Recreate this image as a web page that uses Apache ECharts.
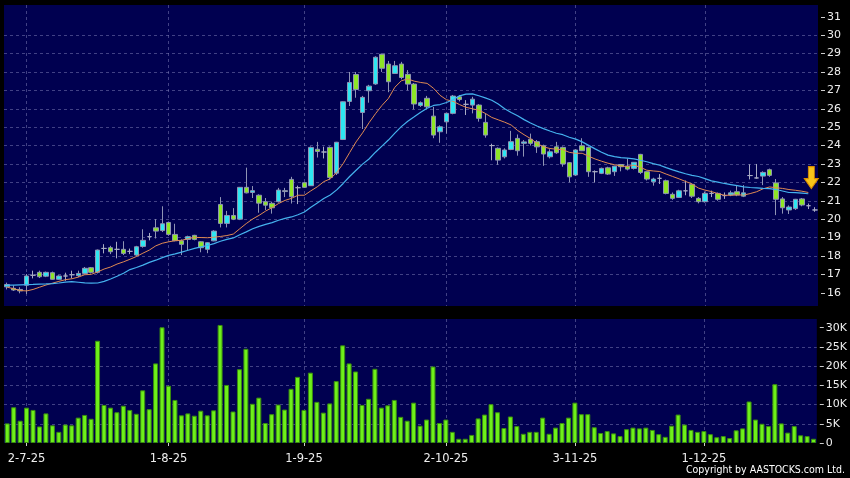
<!DOCTYPE html>
<html>
<head>
<meta charset="utf-8">
<script src="https://cdn.jsdelivr.net/npm/echarts@6/dist/echarts.min.js"></script>
<style>
  html, body { margin: 0; padding: 0; background: #000; }
  #kLineChart { width: 850px; height: 478px; }
</style>
</head>
<body>
<div id="kLineChart"></div>
<script>
// trading days (D-M-YY)
const dates = ['26-6-25','27-6-25','30-6-25',
  '2-7-25','3-7-25','4-7-25','7-7-25','8-7-25','9-7-25','10-7-25','11-7-25','14-7-25','15-7-25','16-7-25','17-7-25','18-7-25','21-7-25','22-7-25','23-7-25','24-7-25','25-7-25','28-7-25','29-7-25','30-7-25','31-7-25',
  '1-8-25','4-8-25','5-8-25','6-8-25','7-8-25','8-8-25','11-8-25','12-8-25','13-8-25','14-8-25','15-8-25','18-8-25','19-8-25','20-8-25','21-8-25','22-8-25','25-8-25','26-8-25','27-8-25','28-8-25','29-8-25',
  '1-9-25','2-9-25','3-9-25','4-9-25','5-9-25','8-9-25','9-9-25','10-9-25','11-9-25','12-9-25','15-9-25','16-9-25','17-9-25','18-9-25','19-9-25','22-9-25','23-9-25','24-9-25','25-9-25','26-9-25','29-9-25','30-9-25',
  '2-10-25','3-10-25','6-10-25','8-10-25','9-10-25','10-10-25','13-10-25','14-10-25','15-10-25','16-10-25','17-10-25','20-10-25','21-10-25','22-10-25','23-10-25','24-10-25','27-10-25','28-10-25','30-10-25','31-10-25',
  '3-11-25','4-11-25','5-11-25','6-11-25','7-11-25','10-11-25','11-11-25','12-11-25','13-11-25','14-11-25','17-11-25','18-11-25','19-11-25','20-11-25','21-11-25','24-11-25','25-11-25','26-11-25','27-11-25','28-11-25',
  '1-12-25','2-12-25','3-12-25','4-12-25','5-12-25','8-12-25','9-12-25','10-12-25','11-12-25','12-12-25','15-12-25','16-12-25','17-12-25','18-12-25','19-12-25','22-12-25','23-12-25','24-12-25'];

const opens = [16.32,16.24,16.18,16.41,16.95,17.11,16.90,17.09,16.73,16.91,
  16.98,16.93,17.05,17.36,17.11,18.41,18.45,18.36,18.36,18.25,
  18.05,18.52,19.05,19.53,19.38,19.82,19.17,18.82,18.90,19.12,
  18.77,18.36,18.82,20.80,19.77,20.20,20.00,21.73,21.45,21.30,
  20.95,20.86,20.95,21.55,22.16,21.71,21.98,21.82,23.80,23.65,
  23.90,22.50,24.33,26.40,27.86,25.80,26.98,27.35,28.96,28.43,
  27.92,28.43,27.87,27.34,26.18,26.57,25.60,24.75,25.29,25.75,
  26.65,26.24,26.20,26.20,25.26,24.00,23.85,23.39,23.79,24.39,
  24.12,24.34,24.21,23.99,23.39,23.93,23.90,23.07,22.40,23.99,
  23.90,22.58,22.49,22.79,22.58,22.97,22.88,22.76,23.52,22.58,
  22.03,22.22,22.09,21.35,21.18,21.54,21.89,21.13,20.95,21.40,
  21.40,21.28,21.31,21.49,21.25,22.37,22.24,22.34,22.69,21.97,
  21.10,20.50,20.57,21.10,20.73,20.50];

const closes = [16.45,16.15,16.10,16.91,16.95,16.87,17.11,16.73,16.91,16.91,
  16.98,17.05,17.33,17.11,18.32,18.41,18.23,18.36,18.14,18.25,
  18.50,18.85,19.05,19.35,19.75,19.17,18.83,18.63,19.05,18.90,
  18.45,18.72,19.35,19.77,20.20,20.00,21.73,21.43,21.55,20.87,
  20.76,20.62,21.58,21.50,21.22,21.71,21.73,23.90,23.68,23.65,
  22.27,24.18,26.38,27.43,27.05,26.62,27.23,28.80,28.20,27.47,
  28.34,27.70,27.34,26.26,26.33,26.11,24.57,25.02,25.75,26.69,
  26.50,26.24,26.52,25.48,24.57,24.00,23.21,23.76,24.21,23.72,
  24.20,24.12,23.93,23.54,23.66,23.61,23.00,22.30,23.76,23.72,
  22.58,22.58,22.76,22.45,22.88,22.85,22.72,23.09,22.54,22.18,
  22.18,22.22,21.40,21.13,21.54,21.54,21.25,20.95,21.40,21.40,
  21.08,21.28,21.43,21.31,21.43,22.37,22.24,22.54,22.38,21.08,
  20.62,20.66,21.08,20.77,20.73,20.50];

const lows = [16.18,16.10,15.97,15.93,16.78,16.80,16.85,16.70,16.70,16.65,
  16.78,16.85,17.00,17.05,17.05,18.14,18.10,17.87,18.05,18.10,
  18.00,18.45,18.85,18.95,19.30,19.10,18.80,18.05,18.30,18.85,
  18.20,18.15,18.80,19.55,19.55,19.95,19.95,21.40,21.15,20.35,
  20.50,20.30,20.90,21.20,20.85,20.82,21.70,21.80,23.35,23.30,
  22.15,22.40,24.30,26.15,26.60,24.90,26.33,27.30,28.00,26.90,
  27.90,27.60,27.00,25.97,26.10,26.00,24.40,24.15,24.65,25.70,
  26.40,25.66,25.75,25.30,24.43,23.20,22.95,23.30,23.75,23.45,
  23.40,24.00,23.60,22.90,23.30,23.55,22.85,22.00,22.35,23.70,
  22.30,22.00,22.45,22.40,22.35,22.60,22.65,22.70,22.45,22.10,
  21.82,21.91,21.35,21.05,21.15,21.30,21.15,20.86,20.90,21.20,
  21.00,21.10,21.25,21.25,21.20,22.16,22.20,21.85,22.30,20.22,
  20.30,20.28,20.50,20.70,20.55,20.40];

const highs = [16.55,16.40,16.30,17.02,17.20,17.20,17.15,17.15,16.95,17.09,
  17.20,17.20,17.40,17.40,18.35,18.64,18.55,18.77,18.80,18.40,
  18.55,19.45,19.25,20.00,20.70,19.85,19.75,18.90,19.10,19.15,
  18.80,18.75,19.40,21.20,20.45,20.60,21.75,22.80,21.80,21.35,
  21.15,20.95,21.70,21.70,22.30,21.82,22.00,23.95,24.20,23.94,
  23.95,24.20,26.40,28.00,28.00,26.70,27.30,28.85,29.00,28.60,
  28.60,28.55,28.10,27.40,26.40,26.70,26.10,25.10,25.80,26.75,
  26.75,26.47,26.65,26.25,25.75,24.10,23.90,23.85,24.80,24.60,
  24.30,24.65,24.30,24.05,23.80,24.20,23.95,23.10,23.80,24.40,
  23.95,22.65,22.80,22.85,22.90,23.00,23.30,23.10,23.55,22.60,
  22.25,22.45,22.15,21.45,21.60,22.10,21.95,21.20,21.50,21.55,
  21.45,21.45,21.55,21.85,21.85,22.98,23.00,22.60,22.75,22.18,
  21.20,20.75,21.10,21.15,20.85,20.65];

const volumes = [5100,9300,5800,9200,8600,4300,7700,4600,2900,4800,
  4600,6600,7300,6300,26600,9900,9200,8000,9700,8600,
  7600,13700,8800,20700,30100,14900,11200,7200,7700,7100,
  8400,7200,8500,30700,15100,8200,19200,24500,10200,11800,
  5200,7500,10000,8700,14100,17200,8600,18300,10700,7900,
  10300,16100,25400,20700,18600,9900,11500,19300,9200,9800,
  11200,6800,5800,10500,4500,6100,19900,5200,6100,2900,
  1100,1100,2100,6400,7400,10100,8000,3900,6900,4400,
  2400,2900,2900,6600,2400,4000,5200,6600,10500,7500,
  7500,4100,2600,3100,2500,1800,3600,4000,3800,4000,
  3400,2300,1600,4500,7400,4800,3400,2900,3100,2300,
  1500,1800,1300,3300,3800,10800,6100,5000,4400,15300,
  5100,2700,4400,2000,1800,1100];

// moving averages as drawn (10-day orange, 20-day blue)
const ma10 = [16.30,16.22,16.12,16.10,16.18,16.30,16.42,16.52,16.62,16.71,
  16.76,16.85,16.98,17.00,17.13,17.29,17.40,17.56,17.68,17.82,
  17.97,18.15,18.32,18.55,18.69,18.77,18.83,18.85,18.94,19.01,
  19.00,18.99,19.02,19.06,19.11,19.19,19.48,19.76,20.01,20.21,
  20.44,20.63,20.85,21.02,21.13,21.30,21.30,21.54,21.76,22.04,
  22.19,22.54,23.02,23.62,24.20,24.69,25.24,25.73,26.18,26.56,
  27.17,27.52,27.62,27.50,27.43,27.38,27.11,26.73,26.49,26.41,
  26.23,26.08,26.00,25.92,25.75,25.53,25.40,25.27,25.12,24.82,
  24.59,24.38,24.12,23.93,23.84,23.80,23.78,23.63,23.58,23.58,
  23.42,23.27,23.15,23.04,22.96,22.89,22.86,22.94,22.82,22.66,
  22.62,22.59,22.45,22.32,22.19,22.05,21.91,21.69,21.58,21.50,
  21.39,21.30,21.30,21.32,21.31,21.39,21.49,21.65,21.75,21.71,
  21.67,21.61,21.57,21.52,21.45];

const ma20 = [16.42,16.42,16.43,16.44,16.45,16.47,16.48,16.50,16.53,16.58,
  16.60,16.57,16.54,16.52,16.53,16.62,16.75,16.90,17.06,17.26,
  17.37,17.50,17.65,17.77,17.91,18.03,18.11,18.21,18.31,18.41,
  18.49,18.57,18.67,18.80,18.90,18.98,19.15,19.31,19.48,19.61,
  19.72,19.81,19.94,20.04,20.12,20.24,20.39,20.65,20.88,21.12,
  21.31,21.59,21.94,22.32,22.66,22.99,23.27,23.64,23.97,24.30,
  24.68,25.03,25.32,25.56,25.81,26.03,26.18,26.23,26.34,26.49,
  26.70,26.80,26.81,26.71,26.59,26.46,26.26,26.00,25.80,25.62,
  25.41,25.23,25.06,24.92,24.79,24.67,24.59,24.45,24.35,24.20,
  24.01,23.82,23.64,23.48,23.40,23.34,23.32,23.28,23.20,23.12,
  23.02,22.93,22.80,22.68,22.57,22.47,22.38,22.32,22.20,22.08,
  22.01,21.94,21.88,21.82,21.75,21.72,21.70,21.67,21.66,21.61,
  21.53,21.45,21.44,21.42,21.38];

const priceTicks = [16,17,18,19,20,21,22,23,24,25,26,27,28,29,30,31];
const volumeTicks = [0,5000,10000,15000,20000,25000,30000];
const arrowMark = ['23-12-25', 22.26];

let kLineChart = echarts.init(document.getElementById('kLineChart'));

// first trading day of each month gets a label and a grid line
function isMonthStart(index) {
  if (index === 0) return false;
  return dates[index].split('-')[1] !== dates[index - 1].split('-')[1];
}

let candles = [];
for (let i = 0; i < dates.length; i++) {
  candles.push([opens[i], closes[i], lows[i], highs[i]]);
}

const gridLine = { color: 'rgba(130,130,185,0.5)', type: [3, 3], width: 1 };
const labelFont = 'DejaVu Sans';

let option = {
  animation: false,
  backgroundColor: '#000000',
  grid: [
    { left: 4, right: 32, top: 5, height: 301, show: true, backgroundColor: '#000050', borderWidth: 0 },
    { left: 4, right: 32, top: 319, height: 124, show: true, backgroundColor: '#000050', borderWidth: 0 }
  ],
  xAxis: [
    {
      type: 'category', gridIndex: 0, data: dates,
      axisLine: { show: false }, axisTick: { show: false }, axisLabel: { show: false },
      splitLine: { show: true, interval: isMonthStart, alignWithLabel: true, lineStyle: gridLine }
    },
    {
      type: 'category', gridIndex: 1, data: dates,
      axisLine: { show: false },
      axisTick: { show: true, interval: isMonthStart, alignWithLabel: true, length: 3, lineStyle: { color: '#cccccc' } },
      axisLabel: { interval: isMonthStart, color: '#eeeeee', fontSize: 11.5, fontFamily: labelFont, margin: 10 },
      splitLine: { show: true, interval: isMonthStart, alignWithLabel: true, lineStyle: gridLine }
    }
  ],
  yAxis: [
    {
      type: 'value', gridIndex: 0, position: 'right', offset: 3,
      min: 15.28, max: 31.64, minInterval: 1, maxInterval: 1,
      axisLine: { show: false },
      axisTick: { show: true, length: 4, customValues: priceTicks, lineStyle: { color: '#cccccc' } },
      axisLabel: { customValues: priceTicks, color: '#eeeeee', fontSize: 11, fontFamily: labelFont, margin: 6 },
      splitLine: { show: true, showMinLine: false, showMaxLine: false, lineStyle: gridLine }
    },
    {
      type: 'value', gridIndex: 1, position: 'right', offset: 3,
      min: 0, max: 32250, minInterval: 5000, maxInterval: 5000,
      axisLine: { show: false },
      axisTick: { show: true, length: 4, customValues: volumeTicks, lineStyle: { color: '#cccccc' } },
      axisLabel: {
        customValues: volumeTicks, color: '#eeeeee', fontSize: 11, fontFamily: labelFont, margin: 6,
        formatter: function (v) { return v === 0 ? '0' : (v / 1000) + 'K'; }
      },
      splitLine: { show: true, showMinLine: false, showMaxLine: false, lineStyle: gridLine }
    }
  ],
  series: [
    {
      name: 'K', type: 'candlestick', xAxisIndex: 0, yAxisIndex: 0,
      data: candles, barWidth: 5,
      itemStyle: {
        color: '#2ee6f2', color0: '#8ee626',
        borderColor: '#8f94b4', borderColor0: '#8f94b4', borderColorDoji: '#a8abc4',
        borderWidth: 1
      },
      markPoint: {
        silent: true,
        label: { show: false },
        data: [{
          coord: arrowMark,
          symbol: 'path://M4,0 L10,0 L10,12 L14,12 L7,22 L0,12 L4,12 Z',
          symbolSize: [14, 22], symbolOffset: [3, 0],
          itemStyle: { color: '#f7c51a', borderColor: '#d98c00', borderWidth: 1 }
        }]
      }
    },
    {
      name: 'MA10', type: 'line', xAxisIndex: 0, yAxisIndex: 0, data: ma10,
      showSymbol: false, lineStyle: { color: '#e08a52', width: 1 }
    },
    {
      name: 'MA20', type: 'line', xAxisIndex: 0, yAxisIndex: 0, data: ma20,
      showSymbol: false, lineStyle: { color: '#45b2ee', width: 1.2 }
    },
    {
      name: 'Volume', type: 'bar', xAxisIndex: 1, yAxisIndex: 1, data: volumes, barWidth: 5,
      itemStyle: { color: '#6ef01a', borderColor: '#3a8c10', borderWidth: 1 }
    }
  ],
  graphic: [{
    type: 'text', right: 5, bottom: 2,
    style: { text: 'Copyright by AASTOCKS.com Ltd.', fill: '#ffffff', font: '10.5px "DejaVu Sans Condensed", "DejaVu Sans", sans-serif' }
  }]
};

kLineChart.setOption(option);
</script>
</body>
</html>
